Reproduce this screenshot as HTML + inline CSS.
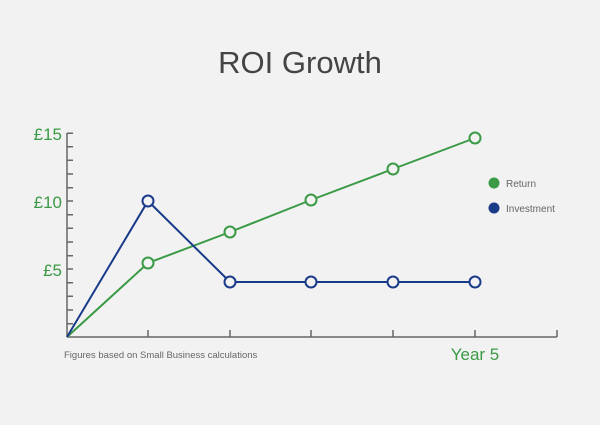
<!DOCTYPE html>
<html><head><meta charset="utf-8"><style>
html,body{margin:0;padding:0;background:#f2f2f2;}
svg{display:block;}
</style></head><body>
<svg width="600" height="425" viewBox="0 0 600 425" xmlns="http://www.w3.org/2000/svg">
<rect width="600" height="425" fill="#f2f2f2"/>
<text x="300" y="73" text-anchor="middle" font-family="Liberation Sans, sans-serif" font-size="31" fill="#444">ROI Growth</text>
<g stroke="#666" stroke-width="1.5" fill="none">
<line x1="67" y1="133" x2="67" y2="337"/>
<line x1="67" y1="337" x2="557" y2="337"/>
<path d="M67 133.3h6M67 146.7h6M67 160.3h6M67 174h6M67 187.7h6M67 201h6M67 214.7h6M67 228.3h6M67 242h6M67 255.7h6M67 269h6M67 282.7h6M67 296.3h6M67 310h6M67 323.7h6"/>
<path d="M148 337v-7M230 337v-7M311 337v-7M393 337v-7M475 337v-7M557 337v-7"/>
</g>
<g font-family="Liberation Sans, sans-serif" fill="#3a9a45" font-size="17" text-anchor="end">
<text x="62" y="140">£15</text>
<text x="62" y="208">£10</text>
<text x="62" y="276">£5</text>
</g>
<text x="475" y="360" text-anchor="middle" font-family="Liberation Sans, sans-serif" font-size="17" fill="#3a9a45">Year 5</text>
<text x="64" y="358" font-family="Liberation Sans, sans-serif" font-size="9.5" fill="#666">Figures based on Small Business calculations</text>
<polyline points="67,337 148,263 230,232 311,200 393,169 475,138" fill="none" stroke="#3a9a45" stroke-width="2"/>
<polyline points="67,337 148,201 230,282 311,282 393,282 475,282" fill="none" stroke="#1a3a8a" stroke-width="2"/>
<g fill="#f2f2f2" stroke="#3a9a45" stroke-width="2">
<circle cx="148" cy="263" r="5.5"/><circle cx="230" cy="232" r="5.5"/><circle cx="311" cy="200" r="5.5"/><circle cx="393" cy="169" r="5.5"/><circle cx="475" cy="138" r="5.5"/>
</g>
<g fill="#f2f2f2" stroke="#1a3a8a" stroke-width="2">
<circle cx="148" cy="201" r="5.5"/><circle cx="230" cy="282" r="5.5"/><circle cx="311" cy="282" r="5.5"/><circle cx="393" cy="282" r="5.5"/><circle cx="475" cy="282" r="5.5"/>
</g>
<circle cx="494" cy="183" r="5.5" fill="#3a9a45"/>
<circle cx="494" cy="208" r="5.5" fill="#1a3a8a"/>
<g font-family="Liberation Sans, sans-serif" font-size="10" fill="#666">
<text x="506" y="187">Return</text>
<text x="506" y="212">Investment</text>
</g>
</svg>
</body></html>
